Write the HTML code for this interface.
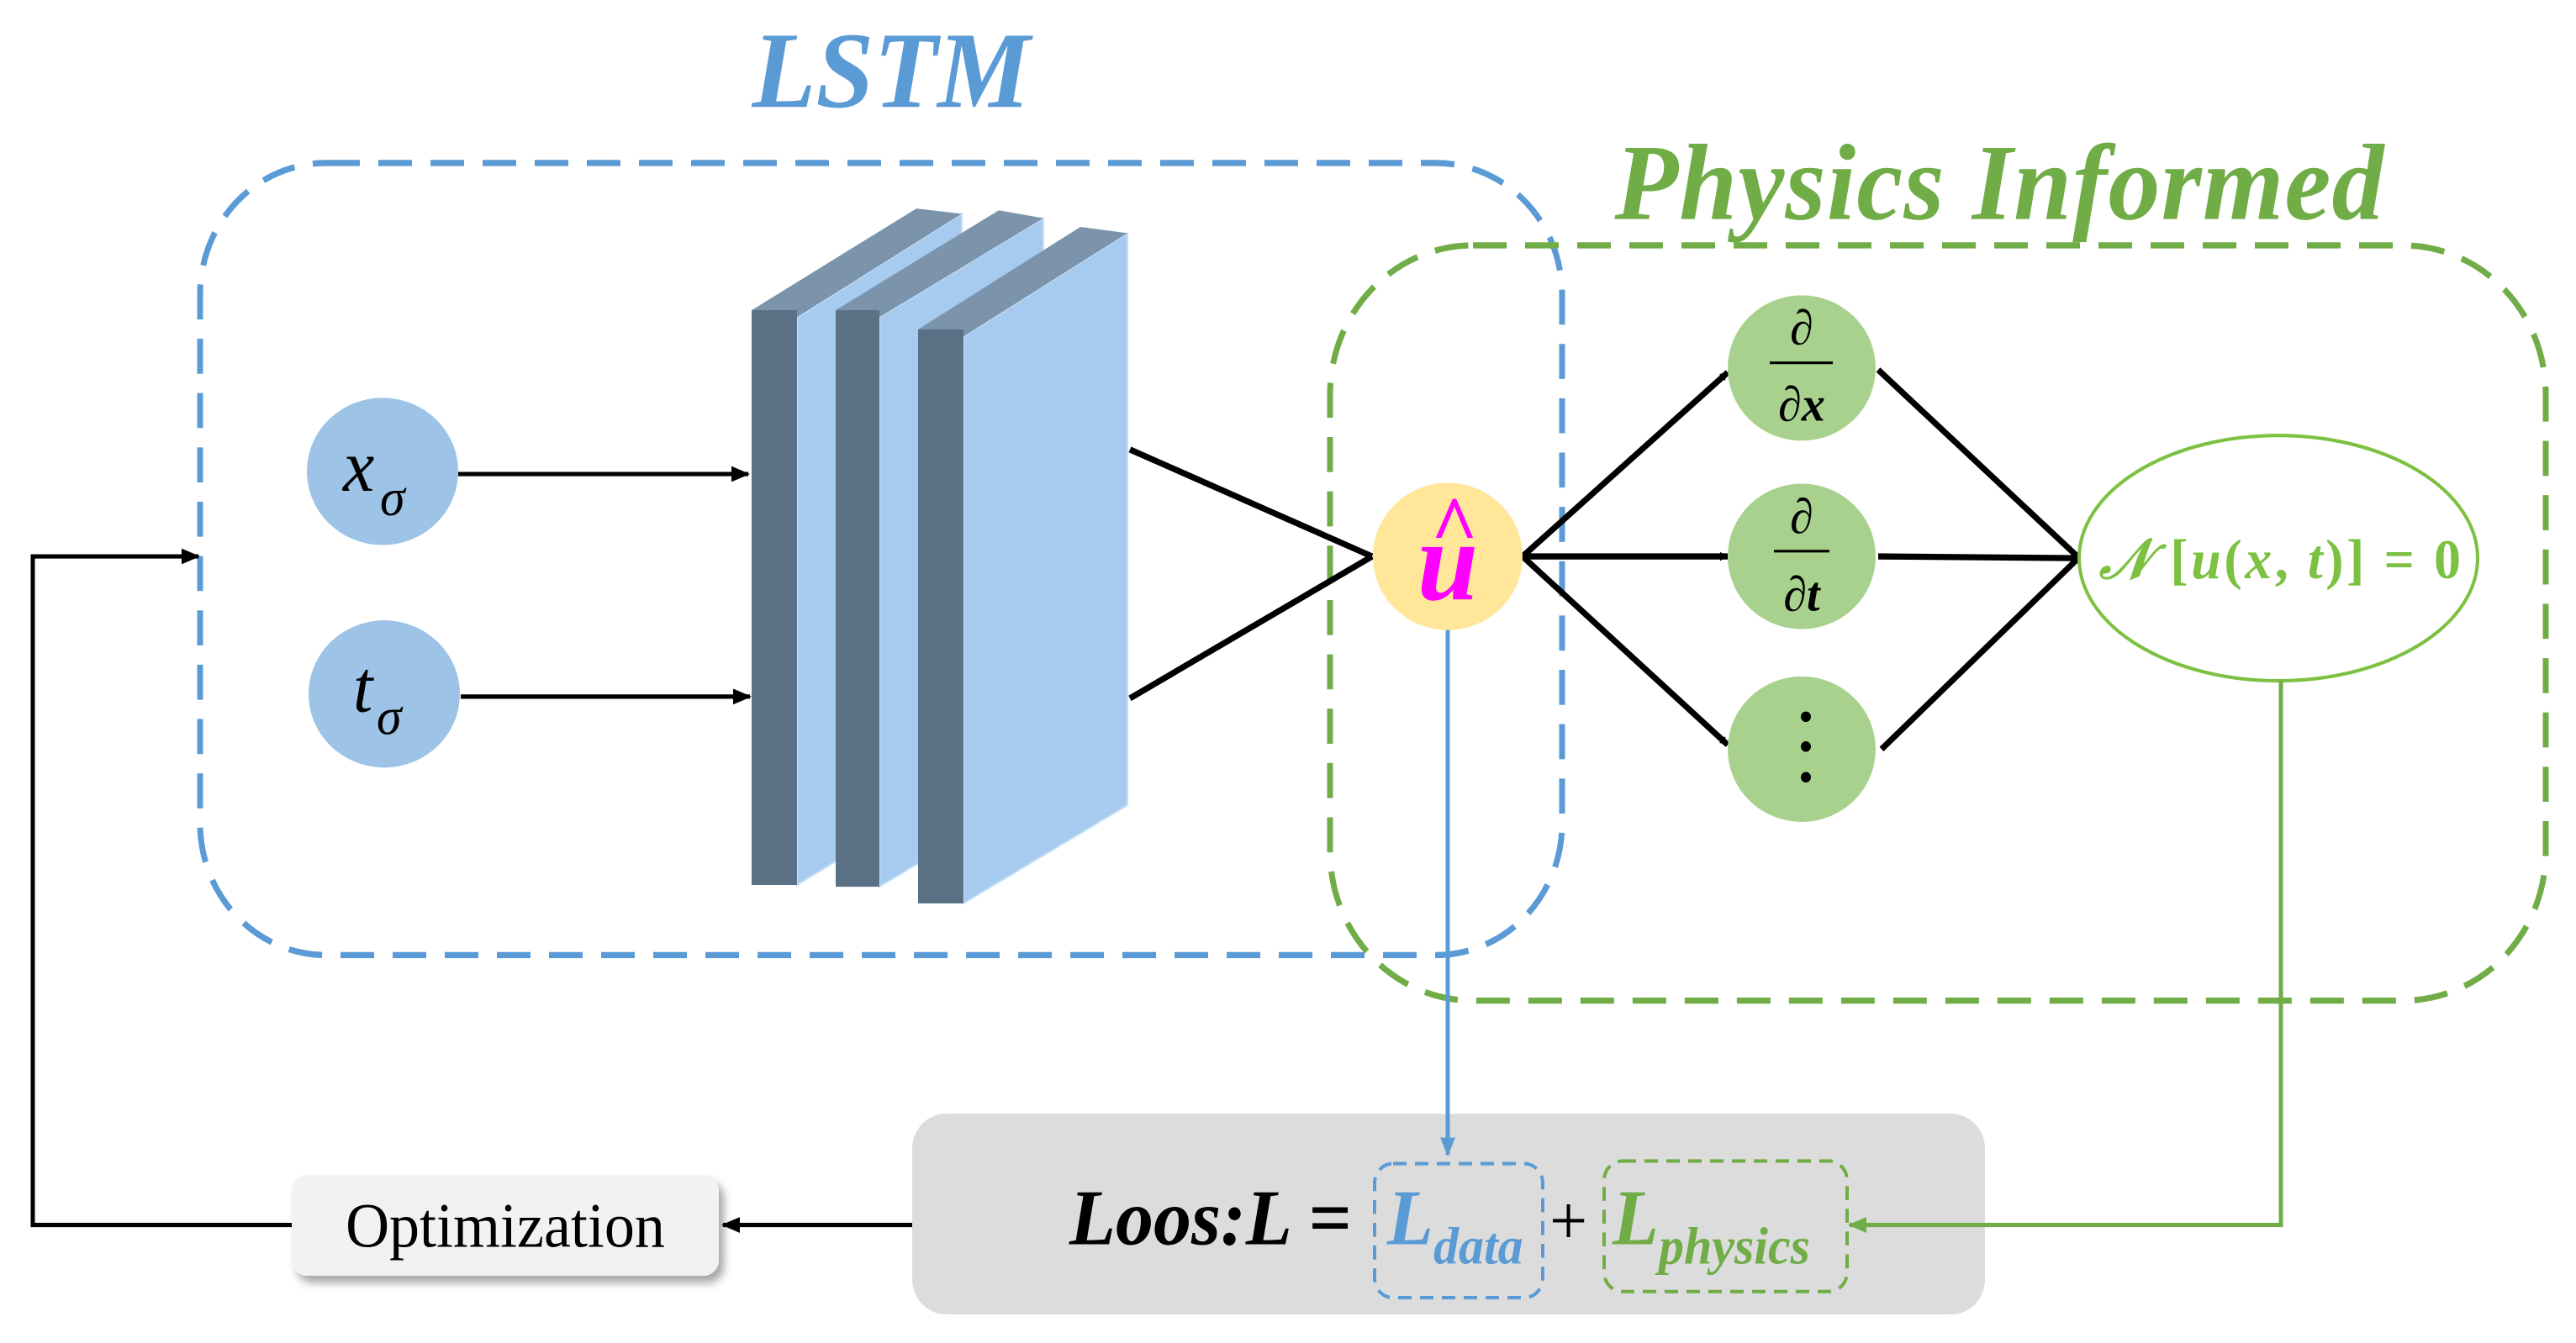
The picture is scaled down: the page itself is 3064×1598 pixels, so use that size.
<!DOCTYPE html>
<html><head><meta charset="utf-8"><style>
html,body{margin:0;padding:0;background:#fff;}
svg{display:block;}
text{font-family:"Liberation Serif",serif;}
</style></head><body>
<svg width="3064" height="1598" viewBox="0 0 3064 1598" xmlns="http://www.w3.org/2000/svg">
<defs>
<marker id="ak" markerWidth="10" markerHeight="10" refX="9" refY="5" orient="auto" markerUnits="userSpaceOnUse" viewBox="0 0 10 10"><path d="M0,0 L10,5 L0,10 z" fill="#000"/></marker>
<marker id="akb" markerWidth="22" markerHeight="18" refX="20" refY="9" orient="auto" markerUnits="userSpaceOnUse"><path d="M0,0 L22,9 L0,18 z" fill="#000"/></marker>
<marker id="ab" markerWidth="22" markerHeight="18" refX="20" refY="9" orient="auto" markerUnits="userSpaceOnUse"><path d="M0,0 L22,9 L0,18 z" fill="#5b9bd5"/></marker>
<marker id="ag" markerWidth="22" markerHeight="18" refX="20" refY="9" orient="auto" markerUnits="userSpaceOnUse"><path d="M0,0 L22,9 L0,18 z" fill="#70ad47"/></marker>
<filter id="sh" x="-10%" y="-10%" width="130%" height="140%"><feDropShadow dx="6" dy="8" stdDeviation="5" flood-color="#000" flood-opacity="0.35"/></filter>
</defs>
<g transform="matrix(1 0 0 1.0426 0 0)">
<text x="1060" y="122" font-size="124" font-weight="bold" font-style="italic" fill="#5b9bd5" text-anchor="middle">LSTM</text>
<text x="2378" y="250" font-size="124" font-weight="bold" font-style="italic" fill="#70ad47" text-anchor="middle" textLength="915">Physics Informed</text>

<rect x="238" y="186" width="1620" height="904" rx="150" fill="none" stroke="#5b9bd5" stroke-width="7" stroke-dasharray="40,22"/>
<rect x="1582" y="280" width="1446" height="862" rx="170" fill="none" stroke="#70ad47" stroke-width="7" stroke-dasharray="40,22"/>

<ellipse cx="455" cy="538" rx="90" ry="84" fill="#9dc3e6"/>
<text x="408" y="560" font-size="84" font-style="italic">x</text>
<text x="452" y="588" font-size="60" font-style="italic">σ</text>
<ellipse cx="457" cy="792" rx="90" ry="84" fill="#9dc3e6"/>
<text x="420" y="812" font-size="84" font-style="italic">t</text>
<text x="448" y="838" font-size="60" font-style="italic">σ</text>
<line x1="545" y1="541" x2="890" y2="541" stroke="#000" stroke-width="5" marker-end="url(#akb)"/>
<line x1="548" y1="795" x2="892" y2="795" stroke="#000" stroke-width="5" marker-end="url(#akb)"/>

<g>
<polygon points="948,362 1144,244 1144,895 948,1010" fill="#a6cbef" stroke="#c8e0f7" stroke-width="2"/>
<polygon points="894,354 1090,238 1144,244 948,362" fill="#7b94ac"/>
<rect x="894" y="354" width="54" height="656" fill="#5a7085"/>
</g>
<g>
<polygon points="1046,362 1241,249 1241,900 1046,1012" fill="#a6cbef" stroke="#c8e0f7" stroke-width="2"/>
<polygon points="994,354 1188,240 1241,249 1046,362" fill="#7b94ac"/>
<rect x="994" y="354" width="52" height="658" fill="#5a7085"/>
</g>
<g>
<polygon points="1146,384 1341,266 1341,919 1146,1031" fill="#a6cbef" stroke="#c8e0f7" stroke-width="2"/>
<polygon points="1092,376 1285,259 1341,266 1146,384" fill="#7b94ac"/>
<rect x="1092" y="376" width="54" height="655" fill="#5a7085"/>
</g>

<line x1="1344" y1="513" x2="1632" y2="635" stroke="#000" stroke-width="7"/>
<line x1="1344" y1="797" x2="1632" y2="635" stroke="#000" stroke-width="7"/>

<g stroke="#000" stroke-width="7">
<line x1="1811" y1="635" x2="2055" y2="425" marker-end="url(#ak)"/>
<line x1="1811" y1="635" x2="2055" y2="635" marker-end="url(#ak)"/>
<line x1="1811" y1="635" x2="2055" y2="850" marker-end="url(#ak)"/>
<line x1="2234" y1="422" x2="2472" y2="636"/>
<line x1="2234" y1="635" x2="2472" y2="637"/>
<line x1="2238" y1="855" x2="2472" y2="637"/>
</g>

<ellipse cx="1722" cy="635" rx="89" ry="84" fill="#ffe699"/>
<text x="1722" y="684" font-size="130" font-weight="bold" font-style="italic" fill="#ff00ff" text-anchor="middle">u</text>
<text x="1730" y="632" font-size="96" font-weight="bold" fill="#ff00ff" text-anchor="middle">^</text>

<ellipse cx="2143" cy="420" rx="88" ry="83" fill="#a9d18e"/>
<text x="2143" y="393" font-size="56" text-anchor="middle">∂</text>
<line x1="2105" y1="414" x2="2180" y2="414" stroke="#000" stroke-width="3"/>
<text x="2143" y="480" font-size="56" font-weight="bold" text-anchor="middle">∂<tspan font-style="italic">x</tspan></text>
<ellipse cx="2143" cy="635" rx="88" ry="83" fill="#a9d18e"/>
<text x="2143" y="608" font-size="56" text-anchor="middle">∂</text>
<line x1="2110" y1="629" x2="2176" y2="629" stroke="#000" stroke-width="3"/>
<text x="2143" y="697" font-size="56" font-weight="bold" text-anchor="middle">∂<tspan font-style="italic">t</tspan></text>
<ellipse cx="2143" cy="855" rx="88" ry="83" fill="#a9d18e"/>
<circle cx="2148" cy="818" r="6" fill="#000"/>
<circle cx="2148" cy="852" r="6" fill="#000"/>
<circle cx="2148" cy="887" r="6" fill="#000"/>

<ellipse cx="2710" cy="637" rx="237" ry="140" fill="#fff" stroke="#7dc142" stroke-width="4"/>
<text x="2712" y="660" font-size="64" font-weight="bold" fill="#7dc142" text-anchor="middle" textLength="430"><tspan font-style="italic">𝒩</tspan> [<tspan font-style="italic">u</tspan>(<tspan font-style="italic">x</tspan>, <tspan font-style="italic">t</tspan>)] = 0</text>

<rect x="1085" y="1271" width="1276" height="229" rx="40" fill="#dcdcdc"/>
<text x="1272" y="1420" font-size="90" font-weight="bold" font-style="italic">Loos:L =</text>
<rect x="1635" y="1328" width="200" height="153" rx="22" fill="none" stroke="#5b9bd5" stroke-width="4" stroke-dasharray="16,10"/>
<text x="1650" y="1420" font-size="90" font-style="italic" font-weight="bold" fill="#5b9bd5">L<tspan font-size="60" dy="22">data</tspan></text>
<text x="1843" y="1420" font-size="80">+</text>
<rect x="1908" y="1325" width="289" height="149" rx="22" fill="none" stroke="#70ad47" stroke-width="4" stroke-dasharray="16,10"/>
<text x="1918" y="1420" font-size="90" font-style="italic" font-weight="bold" fill="#70ad47">L<tspan font-size="60" dy="22">physics</tspan></text>

<line x1="1722" y1="719" x2="1722" y2="1318" stroke="#5b9bd5" stroke-width="5" marker-end="url(#ab)"/>
<polyline points="2713,777 2713,1398 2200,1398" fill="none" stroke="#70ad47" stroke-width="5" marker-end="url(#ag)"/>

<line x1="1085" y1="1398" x2="860" y2="1398" stroke="#000" stroke-width="5" marker-end="url(#akb)"/>
<rect x="347" y="1341" width="508" height="115" rx="18" fill="#f2f2f2" filter="url(#sh)"/>
<text x="601" y="1423" font-size="72" text-anchor="middle">Optimization</text>
<polyline points="347,1398 39,1398 39,635 236,635" fill="none" stroke="#000" stroke-width="5" marker-end="url(#akb)"/>
</g>
</svg>
</body></html>
